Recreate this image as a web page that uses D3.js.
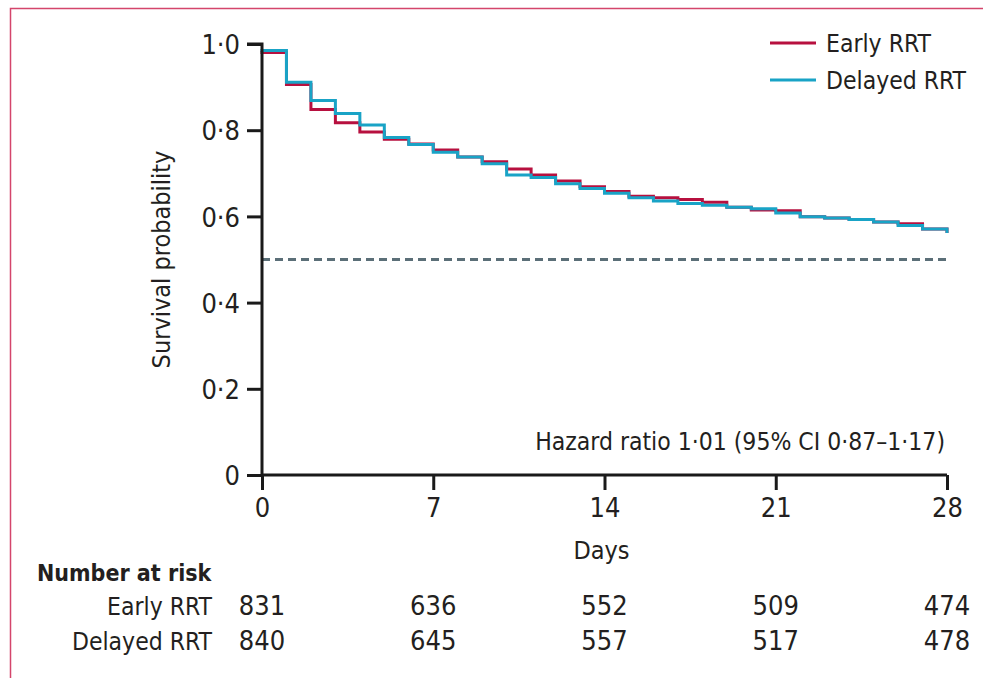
<!DOCTYPE html>
<html>
<head>
<meta charset="utf-8">
<script src="https://cdn.jsdelivr.net/npm/d3@7"></script>
<style>
  html, body { margin: 0; padding: 0; background: #fff; }
  svg { display: block; }
  text { font-family: 'Liberation Sans Narrow', 'DejaVu Sans Condensed', 'Liberation Sans', sans-serif; fill: #231f20; }
</style>
</head>
<body>
<svg id="chart" width="983" height="678"></svg>
<script>
// ---- data ----
const days = [0,1,2,3,4,5,6,7,8,9,10,11,12,13,14,15,16,17,18,19,20,21,22,23,24,25,26,27,28];
const earlyRRT = [0.980,0.906,0.848,0.817,0.796,0.779,0.768,0.754,0.738,0.727,0.710,0.696,0.682,0.669,0.658,0.647,0.643,0.639,0.633,0.621,0.615,0.613,0.599,0.596,0.593,0.587,0.583,0.571,0.565];
const delayedRRT = [0.985,0.911,0.869,0.839,0.812,0.783,0.767,0.749,0.738,0.722,0.696,0.690,0.676,0.665,0.654,0.643,0.636,0.630,0.626,0.621,0.618,0.608,0.599,0.596,0.593,0.587,0.579,0.571,0.565];
const seriesNames = ["Early RRT", "Delayed RRT"];
const xTicks = [0, 7, 14, 21, 28];
const yTicks = [0, 0.2, 0.4, 0.6, 0.8, 1.0];
const riskEarly = [831, 636, 552, 509, 474];
const riskDelayed = [840, 645, 557, 517, 478];
const medianLine = 0.5;
const hazardText = "Hazard ratio 1·01 (95% CI 0·87–1·17)";

// ---- layout ----
const svg = d3.select("#chart");
const colors = { "Early RRT": "#b7103f", "Delayed RRT": "#19a3c6" };
const x = d3.scaleLinear().domain([0, 28]).range([262, 947]);
const y = d3.scaleLinear().domain([0, 1]).range([475, 44]);
const fmt = v => v === 0 ? "0" : d3.format(".1f")(v).replace(".", "·");
const wordSize = "24.5px";
const numSize = "27px";

// frame
svg.append("path")
  .attr("d", "M10.5,678 L10.5,8.5 L983,8.5")
  .attr("fill", "none").attr("stroke", "#d4456b").attr("stroke-width", 1.5);

// median dashed line
svg.append("line")
  .attr("x1", x(0)).attr("x2", x(28)).attr("y1", y(medianLine)).attr("y2", y(medianLine))
  .attr("stroke", "#5b6f78").attr("stroke-width", 3).attr("stroke-dasharray", "8,5");

// curves
const line = d3.line().x((d, i) => x(days[i])).y(d => y(d)).curve(d3.curveStepAfter);
[["Early RRT", earlyRRT], ["Delayed RRT", delayedRRT]].forEach(([name, vals]) => {
  svg.append("path").datum(vals)
    .attr("d", line)
    .attr("fill", "none").attr("stroke", colors[name]).attr("stroke-width", 3)
    .attr("stroke-linejoin", "miter").attr("stroke-linecap", "square");
});

// axes
const yAxis = svg.append("g").attr("transform", `translate(${x(0)},0)`)
  .call(d3.axisLeft(y).tickValues(yTicks).tickFormat(fmt).tickSize(15).tickPadding(7));
const xAxis = svg.append("g").attr("transform", `translate(0,${y(0)})`)
  .call(d3.axisBottom(x).tickValues(xTicks).tickSize(15).tickPadding(3));
[yAxis, xAxis].forEach(g => {
  g.select(".domain").attr("stroke", "#1a1a1a").attr("stroke-width", 3);
  g.selectAll(".tick line").attr("stroke", "#1a1a1a").attr("stroke-width", 3);
  g.selectAll("text").style("font-size", numSize).attr("fill", "#231f20");
});
yAxis.select(".domain").attr("d", `M-15,${y(1)}H0V${y(0)}`);
xAxis.select(".domain").attr("d", `M${x(0)},0H${x(28)}`);
yAxis.selectAll(".tick text").attr("dy", "0.36em");
xAxis.selectAll(".tick text").attr("dy", "0.9em");

// axis titles
svg.append("text").attr("transform", `translate(170,${(y(0)+y(1))/2}) rotate(-90)`)
  .attr("text-anchor", "middle").style("font-size", "25px").text("Survival probability");
svg.append("text").attr("x", (x(0)+x(28))/2 - 3).attr("y", 559)
  .attr("text-anchor", "middle").style("font-size", "25px").text("Days");

// hazard ratio
svg.append("text").attr("x", 945).attr("y", 450)
  .attr("text-anchor", "end").style("font-size", wordSize).text(hazardText);

// legend
const legend = svg.append("g");
seriesNames.forEach((name, i) => {
  const ly = 43 + i * 37;
  legend.append("line").attr("x1", 770).attr("x2", 816).attr("y1", ly).attr("y2", ly)
    .attr("stroke", colors[name]).attr("stroke-width", 3);
  legend.append("text").attr("x", 826).attr("y", ly + 9).style("font-size", wordSize).text(name);
});

// number at risk
svg.append("text").attr("x", 37).attr("y", 581).style("font-size", "23px")
  .style("font-weight", "bold").text("Number at risk");
[[seriesNames[0], riskEarly, 615], [seriesNames[1], riskDelayed, 650]].forEach(([name, vals, ty]) => {
  svg.append("text").attr("x", 212).attr("y", ty).attr("text-anchor", "end")
    .style("font-size", wordSize).text(name);
  svg.append("g").selectAll("text").data(vals).join("text")
    .attr("x", (d, i) => x(xTicks[i])).attr("y", ty).attr("text-anchor", "middle")
    .style("font-size", numSize).text(d => d);
});
</script>
</body>
</html>
